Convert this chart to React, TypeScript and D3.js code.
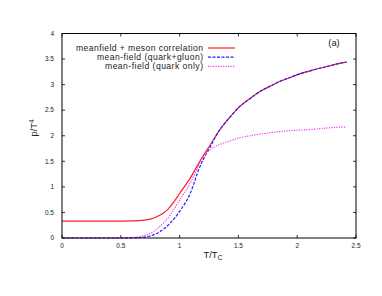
import React from "react";
import * as d3 from "d3";

// T/Tc sample points
const tMeson = [0, 0.4, 0.6, 0.7, 0.75, 0.8, 0.85, 0.9, 0.95, 1.0, 1.09, 1.17, 1.26, 1.34, 1.43, 1.51, 1.6, 1.68, 1.77, 1.85, 1.94, 2.02, 2.11, 2.19, 2.28, 2.35, 2.42];
const pMeson = [0.33, 0.33, 0.335, 0.35, 0.37, 0.41, 0.47, 0.56, 0.7, 0.87, 1.17, 1.49, 1.82, 2.11, 2.37, 2.57, 2.73, 2.86, 2.97, 3.06, 3.14, 3.21, 3.27, 3.32, 3.37, 3.41, 3.44];

const tQG = [0, 0.5, 0.6, 0.66, 0.75, 0.83, 0.92, 1.0, 1.09, 1.17, 1.22, 1.26, 1.3, 1.34, 1.43, 1.51, 1.6, 1.68, 1.77, 1.85, 1.94, 2.02, 2.11, 2.19, 2.28, 2.35, 2.42];
const pQG = [0, 0, 0.004, 0.01, 0.04, 0.12, 0.29, 0.52, 0.87, 1.38, 1.62, 1.78, 1.96, 2.11, 2.37, 2.57, 2.73, 2.86, 2.97, 3.06, 3.14, 3.21, 3.27, 3.32, 3.37, 3.41, 3.44];

const tQ = [0, 0.5, 0.6, 0.68, 0.75, 0.83, 0.92, 1.0, 1.09, 1.17, 1.2, 1.22, 1.26, 1.34, 1.43, 1.51, 1.6, 1.68, 1.77, 1.85, 1.94, 2.02, 2.11, 2.2, 2.3, 2.42];
const pQ = [0, 0, 0.01, 0.04, 0.09, 0.22, 0.45, 0.74, 1.07, 1.45, 1.58, 1.65, 1.73, 1.83, 1.9, 1.96, 2.0, 2.03, 2.06, 2.08, 2.1, 2.11, 2.12, 2.14, 2.16, 2.17];

const xTicks = [0, 0.5, 1, 1.5, 2, 2.5];
const yTicks = [0, 0.5, 1, 1.5, 2, 2.5, 3, 3.5, 4];

const series = [
  { name: "meanfield + meson correlation", t: tMeson, p: pMeson, color: "#ff2020", dash: "" },
  { name: "mean-field (quark+gluon)", t: tQG, p: pQG, color: "#2020ff", dash: "3,1.5" },
  { name: "mean-field (quark only)", t: tQ, p: pQ, color: "#ff30ff", dash: "1.2,1.3" },
];
// legend label widths in the original figure
const legendWidths = [127, 106, 98];

const W = 382;
const H = 296;
const m = { left: 62, right: 356, top: 33.5, bottom: 238 };

export default function App() {
  const x = d3.scaleLinear().domain([0, 2.5]).range([m.left, m.right]);
  const y = d3.scaleLinear().domain([0, 4]).range([m.bottom, m.top]);
  const line = d3.line<number>().curve(d3.curveMonotoneX);
  const font = "'Liberation Sans', Arial, sans-serif";
  const tk = 3;

  return (
    <svg width={W} height={H} style={{ position: "absolute", left: 0, top: 0, background: "#fff" }} fontFamily={font}>
      {/* ticks on all sides */}
      {xTicks.map((v) => (
        <g key={"x" + v}>
          <line x1={x(v)} x2={x(v)} y1={m.bottom} y2={m.bottom - tk} stroke="#000" strokeWidth={0.8} />
          <line x1={x(v)} x2={x(v)} y1={m.top} y2={m.top + tk} stroke="#000" strokeWidth={0.8} />
          <text x={x(v)} y={m.bottom + 9.5} fontSize={6.5} textAnchor="middle" fill="#222">
            {v}
          </text>
        </g>
      ))}
      {yTicks.map((v) => (
        <g key={"y" + v}>
          <line x1={m.left} x2={m.left + tk} y1={y(v)} y2={y(v)} stroke="#000" strokeWidth={0.8} />
          <line x1={m.right} x2={m.right - tk} y1={y(v)} y2={y(v)} stroke="#000" strokeWidth={0.8} />
          <text x={m.left - 8} y={y(v) + 2.3} fontSize={6.5} textAnchor="end" fill="#222">
            {v}
          </text>
        </g>
      ))}

      {series.map((s) => (
        <path
          key={s.name}
          d={line.x((_, i) => x(s.t[i])).y((d) => y(d))(s.p) || ""}
          fill="none"
          stroke={s.color}
          strokeWidth={1.2}
          strokeDasharray={s.dash}
        />
      ))}

      <rect x={m.left} y={m.top} width={m.right - m.left} height={m.bottom - m.top} fill="none" stroke="#000" strokeWidth={1} />

      {/* legend */}
      {series.map((s, i) => (
        <g key={"lg" + i} transform={`translate(0, ${48 + i * 9.2})`}>
          <text x={203} y={3} fontSize={8.6} textLength={legendWidths[i]} textAnchor="end" fill="#222">
            {s.name}
          </text>
          <line x1={208} x2={235} y1={0} y2={0} stroke={s.color} strokeWidth={1.2} strokeDasharray={s.dash} />
        </g>
      ))}
      <text x={334} y={46} fontSize={9.4} textAnchor="middle" fill="#222">
        (a)
      </text>

      <text x={213} y={258} fontSize={9.4} textAnchor="middle" fill="#222">
        T/T<tspan fontSize={7} dy={2}>C</tspan>
      </text>
      <text transform="translate(37,128) rotate(-90)" fontSize={9.4} textAnchor="middle" fill="#222">
        p/T<tspan fontSize={6.5} dy={-3.5}>4</tspan>
      </text>
    </svg>
  );
}
